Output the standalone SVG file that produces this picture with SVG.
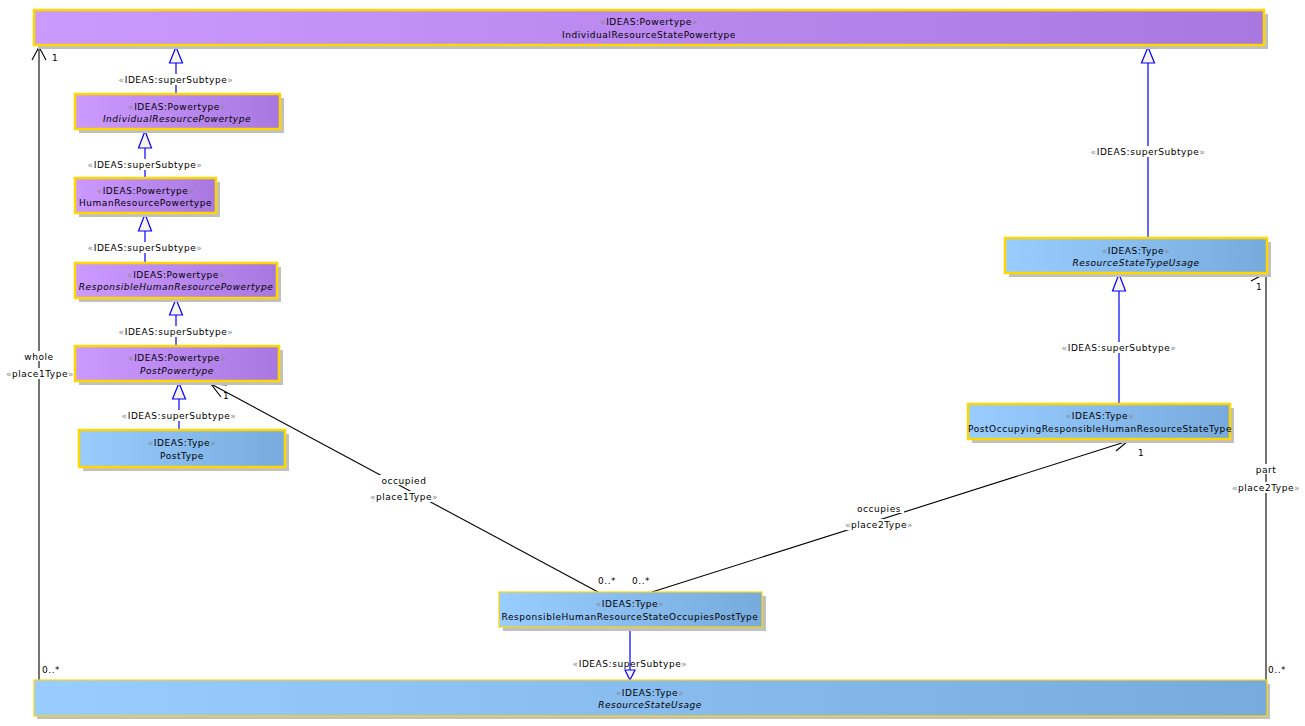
<svg xmlns="http://www.w3.org/2000/svg" width="1305" height="726" viewBox="0 0 1305 726">
<defs>
<linearGradient id="gp" x1="0" y1="0" x2="1" y2="0"><stop offset="0" stop-color="#CC99FF"/><stop offset="1" stop-color="#A878E0"/></linearGradient>
<linearGradient id="gb" x1="0" y1="0" x2="1" y2="0"><stop offset="0" stop-color="#99CCFF"/><stop offset="1" stop-color="#77AADD"/></linearGradient>
<style>
text{font-family:"DejaVu Sans","Liberation Sans",sans-serif;font-size:9px;letter-spacing:0.55px;fill:#000;text-anchor:middle}
.it{font-style:italic}
.g{fill:#8a8a8a}
.sh{fill:#C0C0C0}
.p{fill:url(#gp);stroke:#FFD700;stroke-width:2.5}
.b{fill:url(#gb);stroke:#FFD700;stroke-width:2.5}
.bt{fill:url(#gb);stroke:#FFD700;stroke-width:1.2}
.gen{stroke:#0000FF;stroke-width:1.2;fill:none}
.tri{fill:#F8F2EA;stroke:#0000FF;stroke-width:1.2}
.as{stroke:#000;stroke-width:1.1;fill:none}
.bg{fill:#fff}
</style>
</defs>
<rect width="1305" height="726" fill="#fff"/>

<g id="connectors">
<line class="gen" x1="176" y1="63" x2="176" y2="94"/>
<polygon class="tri" points="176,47 169.5,63 182.5,63"/>
<line class="gen" x1="145" y1="148" x2="145" y2="178"/>
<polygon class="tri" points="145,131 138.5,148 151.5,148"/>
<line class="gen" x1="145" y1="231" x2="145" y2="263"/>
<polygon class="tri" points="145,214 138.5,231 151.5,231"/>
<line class="gen" x1="176" y1="315" x2="176" y2="346"/>
<polygon class="tri" points="176,299 169.5,315 182.5,315"/>
<line class="gen" x1="179" y1="399" x2="179" y2="430"/>
<polygon class="tri" points="179,383 172.5,399 185.5,399"/>
<line class="gen" x1="1148" y1="63" x2="1148" y2="238"/>
<polygon class="tri" points="1148,47 1141.5,63 1154.5,63"/>
<line class="gen" x1="1119" y1="291" x2="1119" y2="404"/>
<polygon class="tri" points="1119,274 1112.5,291 1125.5,291"/>
<line class="gen" x1="630" y1="627" x2="630" y2="670"/>
<polygon class="tri" points="630,680 625,670 635,670"/>
<line class="as" x1="39" y1="47" x2="39" y2="680"/>
<polyline class="as" points="32,60 39,47 46,60"/>
<line class="as" x1="1266" y1="273" x2="1266" y2="680"/>
<polyline class="as" points="1251,268 1266,273 1251,281"/>
<line class="as" x1="598" y1="592" x2="211" y2="384"/>
<polyline class="as" points="227,385 211,384 221,397"/>
<line class="as" x1="652" y1="592" x2="1128" y2="441"/>
<polyline class="as" points="1112,438 1128,441 1116,451"/>

<rect class="bg" x="119" y="74" width="114" height="11"/>
<text x="176" y="83"><tspan class="g">«</tspan>IDEAS:superSubtype<tspan class="g">»</tspan></text>
<rect class="bg" x="88" y="159" width="114" height="11"/>
<text x="145" y="168"><tspan class="g">«</tspan>IDEAS:superSubtype<tspan class="g">»</tspan></text>
<rect class="bg" x="88" y="242" width="114" height="11"/>
<text x="145" y="251"><tspan class="g">«</tspan>IDEAS:superSubtype<tspan class="g">»</tspan></text>
<rect class="bg" x="119" y="326" width="114" height="11"/>
<text x="176" y="335"><tspan class="g">«</tspan>IDEAS:superSubtype<tspan class="g">»</tspan></text>
<rect class="bg" x="122" y="410" width="114" height="11"/>
<text x="179" y="419"><tspan class="g">«</tspan>IDEAS:superSubtype<tspan class="g">»</tspan></text>
<rect class="bg" x="1091" y="146" width="114" height="11"/>
<text x="1148" y="155"><tspan class="g">«</tspan>IDEAS:superSubtype<tspan class="g">»</tspan></text>
<rect class="bg" x="1062" y="342" width="114" height="11"/>
<text x="1119" y="351"><tspan class="g">«</tspan>IDEAS:superSubtype<tspan class="g">»</tspan></text>
<text x="630" y="667"><tspan class="g">«</tspan>IDEAS:superSubtype<tspan class="g">»</tspan></text>

<text x="52" y="61" style="text-anchor:start">1</text>
<rect class="bg" x="23" y="351" width="32" height="10"/>
<text x="39" y="360">whole</text>
<rect class="bg" x="4" y="368" width="72" height="11"/>
<text x="40" y="377"><tspan class="g">«</tspan>place1Type<tspan class="g">»</tspan></text>
<text x="42" y="673" style="text-anchor:start">0..*</text>

<text x="1256" y="290" style="text-anchor:start">1</text>
<rect class="bg" x="1253" y="464" width="26" height="10"/>
<text x="1266" y="473">part</text>
<rect class="bg" x="1230" y="482" width="72" height="11"/>
<text x="1266" y="491"><tspan class="g">«</tspan>place2Type<tspan class="g">»</tspan></text>
<text x="1268" y="673" style="text-anchor:start">0..*</text>

<text x="223" y="399" style="text-anchor:start">1</text>
<rect class="bg" x="378" y="475" width="52" height="10"/>
<text x="404" y="484">occupied</text>
<rect class="bg" x="368" y="491" width="72" height="11"/>
<text x="404" y="500"><tspan class="g">«</tspan>place1Type<tspan class="g">»</tspan></text>
<text x="598" y="584" style="text-anchor:start">0..*</text>

<text x="1138" y="456" style="text-anchor:start">1</text>
<rect class="bg" x="854" y="503" width="50" height="10"/>
<text x="879" y="512">occupies</text>
<rect class="bg" x="843" y="519" width="72" height="11"/>
<text x="879" y="528"><tspan class="g">«</tspan>place2Type<tspan class="g">»</tspan></text>
<text x="632" y="584" style="text-anchor:start">0..*</text>
</g>

<g id="IndividualResourceStatePowertype">
<rect class="sh" x="38" y="14" width="1230" height="35"/>
<rect class="p" x="34" y="10" width="1230" height="35"/>
<text x="649" y="25"><tspan class="g">«</tspan>IDEAS:Powertype<tspan class="g">»</tspan></text>
<text x="649" y="38">IndividualResourceStatePowertype</text>
</g>

<g id="IndividualResourcePowertype">
<rect class="sh" x="79" y="98" width="205" height="35"/>
<rect class="p" x="75" y="94" width="205" height="35"/>
<text x="177" y="110"><tspan class="g">«</tspan>IDEAS:Powertype<tspan class="g">»</tspan></text>
<text x="177" y="122" class="it">IndividualResourcePowertype</text>
</g>

<g id="HumanResourcePowertype">
<rect class="sh" x="79" y="182" width="141" height="35"/>
<rect class="p" x="75" y="178" width="141" height="35"/>
<text x="145.5" y="194"><tspan class="g">«</tspan>IDEAS:Powertype<tspan class="g">»</tspan></text>
<text x="145.5" y="206">HumanResourcePowertype</text>
</g>

<g id="ResponsibleHumanResourcePowertype">
<rect class="sh" x="79" y="267" width="202" height="35"/>
<rect class="p" x="75" y="263" width="202" height="35"/>
<text x="176" y="278"><tspan class="g">«</tspan>IDEAS:Powertype<tspan class="g">»</tspan></text>
<text x="176" y="290" class="it">ResponsibleHumanResourcePowertype</text>
</g>

<g id="PostPowertype">
<rect class="sh" x="79" y="350" width="204" height="35"/>
<rect class="p" x="75" y="346" width="204" height="35"/>
<text x="177" y="361"><tspan class="g">«</tspan>IDEAS:Powertype<tspan class="g">»</tspan></text>
<text x="177" y="374" class="it">PostPowertype</text>
</g>

<g id="PostType">
<rect class="sh" x="83" y="434" width="206" height="37"/>
<rect class="b" x="79" y="430" width="206" height="37"/>
<text x="182" y="446"><tspan class="g">«</tspan>IDEAS:Type<tspan class="g">»</tspan></text>
<text x="182" y="459">PostType</text>
</g>

<g id="ResourceStateTypeUsage">
<rect class="sh" x="1009" y="242" width="262" height="35"/>
<rect class="b" x="1005" y="238" width="262" height="35"/>
<text x="1136" y="254"><tspan class="g">«</tspan>IDEAS:Type<tspan class="g">»</tspan></text>
<text x="1136" y="266" class="it">ResourceStateTypeUsage</text>
</g>

<g id="PostOccupyingResponsibleHumanResourceStateType">
<rect class="sh" x="972" y="408" width="262" height="35"/>
<rect class="b" x="968" y="404" width="262" height="35"/>
<text x="1100" y="419"><tspan class="g">«</tspan>IDEAS:Type<tspan class="g">»</tspan></text>
<text x="1100" y="432">PostOccupyingResponsibleHumanResourceStateType</text>
</g>

<g id="ResponsibleHumanResourceStateOccupiesPostType">
<rect class="sh" x="503" y="596" width="263" height="35"/>
<rect class="bt" x="499" y="592" width="263" height="35"/>
<text x="630" y="607"><tspan class="g">«</tspan>IDEAS:Type<tspan class="g">»</tspan></text>
<text x="630" y="620">ResponsibleHumanResourceStateOccupiesPostType</text>
</g>

<g id="ResourceStateUsage">
<rect class="sh" x="37" y="684" width="1233" height="35"/>
<rect class="bt" x="34" y="680" width="1233" height="36"/>
<text x="650" y="696"><tspan class="g">«</tspan>IDEAS:Type<tspan class="g">»</tspan></text>
<text x="650" y="708" class="it">ResourceStateUsage</text>
</g>
</svg>
